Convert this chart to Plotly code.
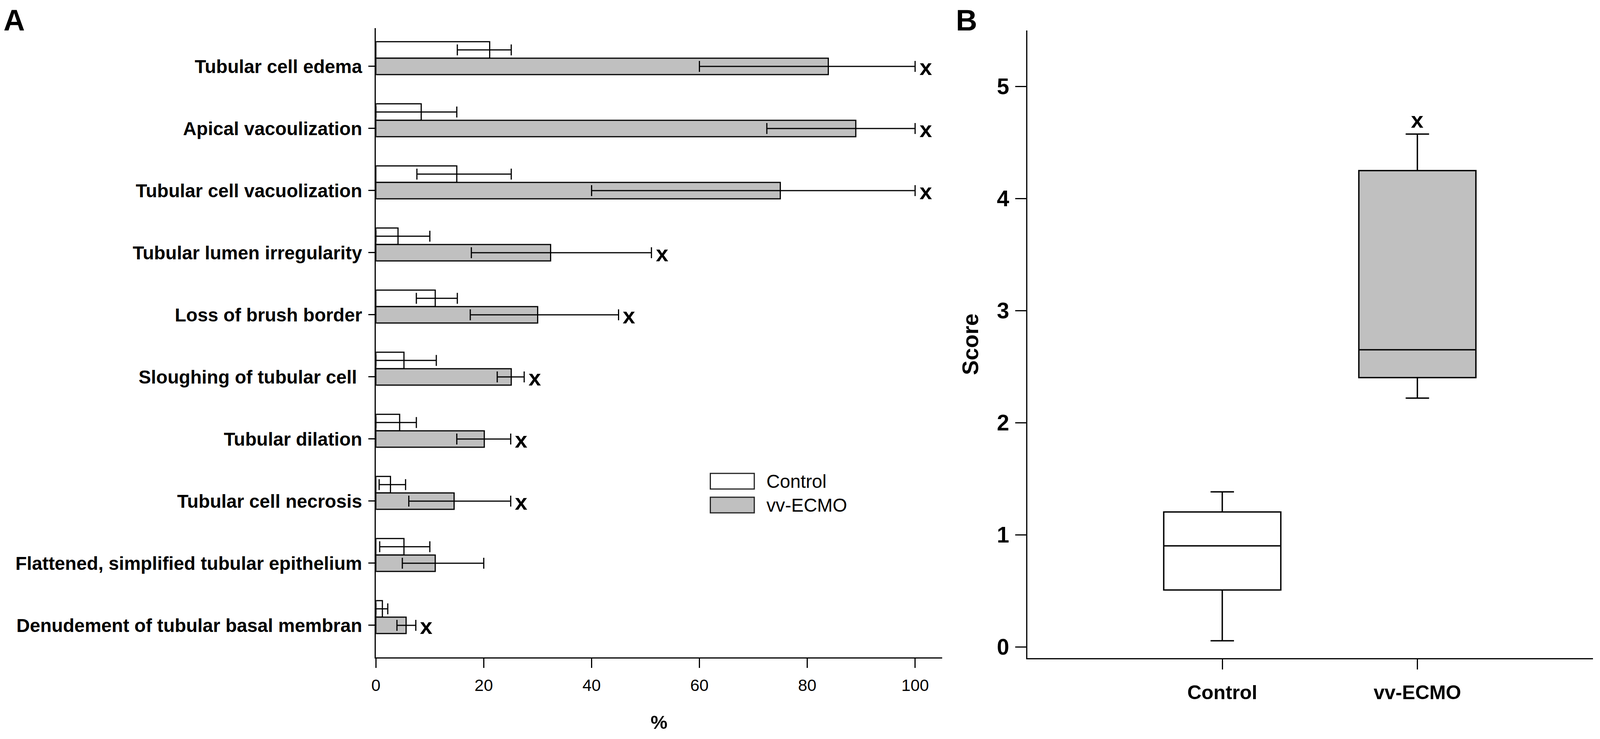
import plotly.graph_objects as go

# the reference is 4550 px wide; the browser viewport here is 4096 px,
# so the layout is kept in reference fractions and text is shrunk to fit
REF_W, H = 4550, 1892
W = 4096
K = W / REF_W
FONT = "Arial, Liberation Sans, sans-serif"

# panel A: histological lesions (% of tubules), median with range
lesions = ["Tubular cell edema", "Apical vacoulization", "Tubular cell vacuolization",
           "Tubular lumen irregularity", "Loss of brush border", "Sloughing of tubular cell\u00a0",
           "Tubular dilation", "Tubular cell necrosis", "Flattened, simplified tubular epithelium",
           "Denudement of tubular basal membran"]
control_pct = [21.1, 8.4, 15.0, 4.1, 11.0, 5.2, 4.4, 2.7, 5.2, 1.2]
control_lo = [15.1, 0.0, 7.6, 0.0, 7.5, 0.0, 0.0, 0.6, 0.7, 0.0]
control_hi = [25.1, 15.0, 25.1, 10.0, 15.1, 11.2, 7.5, 5.5, 10.0, 2.2]
ecmo_pct = [83.9, 89.0, 75.0, 32.4, 30.0, 25.1, 20.1, 14.5, 11.0, 5.6]
ecmo_lo = [60.0, 72.5, 40.0, 17.7, 17.5, 22.5, 15.0, 6.1, 4.9, 3.9]
ecmo_hi = [100.0, 100.0, 100.0, 51.1, 45.0, 27.5, 25.0, 25.0, 20.0, 7.4]
significant = [True, True, True, True, True, True, True, True, False, True]
pct_ticks = [0, 20, 40, 60, 80, 100]

# panel B: kidney injury score
groups = ["Control", "vv-ECMO"]
score_min = [0.055, 2.22]
score_q1 = [0.508, 2.403]
score_median = [0.902, 2.651]
score_q3 = [1.204, 4.25]
score_max = [1.384, 4.576]
score_sig = [False, True]
score_ticks = [0, 1, 2, 3, 4, 5]

fills = {"Control": "white", "vv-ECMO": "#c0c0c0"}


def px(x):
    return x / REF_W


def py(y):
    return 1 - y / H


def fs(size):
    return round(size * K, 1)


fig = go.Figure()

bw = 0.265
series = [
    ("Control", control_pct, control_lo, control_hi, -1.5 * bw),
    ("vv-ECMO", ecmo_pct, ecmo_lo, ecmo_hi, -0.5 * bw),
]
for name, vals, lo, hi, off in series:
    fig.add_trace(go.Bar(
        x=vals, y=lesions, orientation="h", name=name,
        width=bw, offset=off,
        marker=dict(color=fills[name], line=dict(color="black", width=3)),
        error_x=dict(type="data", symmetric=False,
                     array=[h - v for h, v in zip(hi, vals)],
                     arrayminus=[v - l for v, l in zip(vals, lo)],
                     color="black", thickness=3, width=14),
        xaxis="x", yaxis="y", showlegend=False,
    ))

for g, lo, q1, med, q3, hi in zip(groups, score_min, score_q1, score_median, score_q3, score_max):
    fig.add_trace(go.Box(
        x=[g], q1=[q1], median=[med], q3=[q3], lowerfence=[lo], upperfence=[hi],
        width=0.6, whiskerwidth=0.2, fillcolor=fills[g],
        line=dict(color="black", width=3.5), boxpoints=False,
        xaxis="x2", yaxis="y2", showlegend=False, hoverinfo="skip",
    ))

annotations = []
for lab, hi, sig in zip(lesions, ecmo_hi, significant):
    if sig:
        annotations.append(dict(x=hi, y=lab, xref="x", yref="y", text="<b>x</b>",
                                showarrow=False, xanchor="left", xshift=9, yshift=-2,
                                font=dict(size=fs(64), family=FONT, color="black")))
for g, hi, sig in zip(groups, score_max, score_sig):
    if sig:
        annotations.append(dict(x=g, y=hi, xref="x2", yref="y2", text="<b>x</b>",
                                showarrow=False, yanchor="middle", yshift=36,
                                font=dict(size=fs(64), family=FONT, color="black")))

# panel letters
for letter, lx in (("A", 40), ("B", 2749)):
    annotations.append(dict(x=px(lx), y=py(52), xref="paper", yref="paper",
                            text="<b>%s</b>" % letter, showarrow=False,
                            xanchor="center", yanchor="middle",
                            font=dict(size=fs(84), family=FONT, color="black")))

# legend for panel A
shapes = []
for i, name in enumerate(["Control", "vv-ECMO"]):
    top = 1212 + i * 61
    shapes.append(dict(type="rect", xref="paper", yref="paper",
                       x0=px(2020), x1=px(2145), y0=py(top + 40), y1=py(top),
                       fillcolor=fills[name], line=dict(color="#222222", width=3)))
    annotations.append(dict(x=px(2177), y=py(top + 20), xref="paper", yref="paper",
                            text=name, showarrow=False, xanchor="left", yanchor="middle",
                            font=dict(size=fs(53), family=FONT, color="black")))

axis_common = dict(showgrid=False, zeroline=False, showline=True, linecolor="black",
                   ticks="outside", tickcolor="black")

fig.update_layout(
    template="none",
    width=W, height=H,
    margin=dict(l=0, r=0, t=0, b=0),
    paper_bgcolor="white", plot_bgcolor="white",
    font=dict(family=FONT, color="black"),
    barmode="overlay",
    xaxis=dict(domain=[px(1069), px(2679)], range=[0, 105], tickvals=pct_ticks,
               ticklen=24, tickwidth=2.5, linewidth=2.5,
               tickfont=dict(size=fs(47), family=FONT), ticklabelstandoff=8,
               title=dict(text="<b>%</b>", font=dict(size=fs(54), family=FONT), standoff=56),
               anchor="y", **axis_common),
    yaxis=dict(domain=[py(1683), py(72)], range=[9.516, -0.616], type="category",
               ticklen=17, tickwidth=2.5, linewidth=2.5,
               tickfont=dict(size=fs(53), family=FONT, weight="bold"), ticklabelstandoff=6,
               anchor="x", **axis_common),
    xaxis2=dict(domain=[px(2921), px(4530)], range=[-1, 1.9], type="category",
                ticklen=26, tickwidth=2.5, linewidth=2.5,
                tickfont=dict(size=fs(56), family=FONT, weight="bold"), ticklabelstandoff=16,
                anchor="y2", **axis_common),
    yaxis2=dict(domain=[py(1685), py(78)], range=[-0.1, 5.5], tickvals=score_ticks,
                ticklen=28, tickwidth=2.5, linewidth=2.5,
                tickfont=dict(size=fs(63), family=FONT, weight="bold"), ticklabelstandoff=4,
                title=dict(text="<b>Score</b>", font=dict(size=fs(63), family=FONT), standoff=30),
                anchor="x2", **axis_common),
    annotations=annotations,
    shapes=shapes,
)

fig.write_html("out.html", config={"displayModeBar": False},
               post_script="document.body.style.margin = '0';")
